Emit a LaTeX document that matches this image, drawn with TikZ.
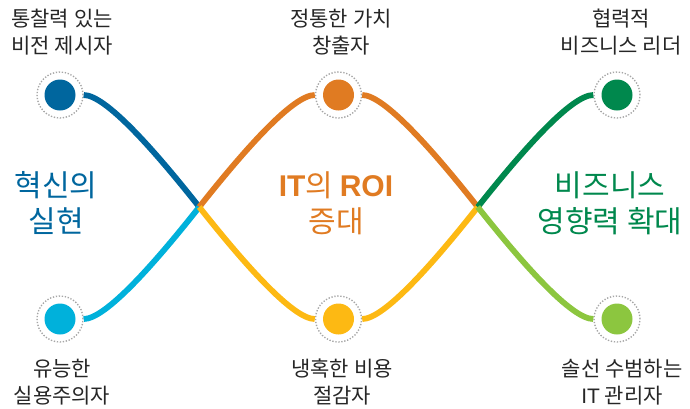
\documentclass[tikz,border=0pt]{standalone}
\usepackage{fontspec}
\setmainfont{Noto Sans CJK KR}
\newfontfamily\latinfont{Liberation Sans}
\definecolor{cblue}{HTML}{00669E}
\definecolor{ccyan}{HTML}{00B1DB}
\definecolor{corange}{HTML}{E07B22}
\definecolor{cyellow}{HTML}{FDB913}
\definecolor{cgreen}{HTML}{00884D}
\definecolor{clgreen}{HTML}{8CC63F}
\definecolor{ringgray}{HTML}{A6A6A6}
\begin{document}
\begin{tikzpicture}[x=1pt,y=-1pt,
  dotbox/.style={circle,inner sep=0pt,minimum size=31pt,fill=#1},
  ringbox/.style={circle,inner sep=0pt,minimum size=46pt,draw=ringgray,line width=1.4pt,dash pattern=on 1.3pt off 1.7pt},
  wave/.style={line width=5.8pt,draw=#1},
  lbl/.style={align=center,font=\fontsize{21}{26.5}\selectfont,text=black!85,inner sep=0pt},
  big/.style={align=center,font=\fontsize{30}{36}\selectfont,text=#1,inner sep=0pt}]
\useasboundingbox (0,0) rectangle (690,408);
% circles
\node[ringbox] (r1) at (60,95) {};
\node[ringbox] (r2) at (338.5,95) {};
\node[ringbox] (r3) at (617,95) {};
\node[ringbox] (r4) at (60,319) {};
\node[ringbox] (r5) at (338.5,319) {};
\node[ringbox] (r6) at (617,319) {};
\node[dotbox=cblue] (c1) at (r1) {};
\node[dotbox=corange] (c2) at (r2) {};
\node[dotbox=cgreen] (c3) at (r3) {};
\node[dotbox=ccyan] (c4) at (r4) {};
\node[dotbox=cyellow] (c5) at (r5) {};
\node[dotbox=clgreen] (c6) at (r6) {};
\coordinate (X1) at (199.25,207);
\coordinate (X2) at (477.75,207);
% waves
\draw[wave=cblue] (r1) .. controls (105.5,95) and (153.9,149.6) .. (X1);
\draw[wave=ccyan] (r4) .. controls (105.5,319) and (153.9,264.4) .. (X1);
\draw[wave=corange] (r2) .. controls (293,95) and (244.7,149.6) .. (X1);
\draw[wave=corange] (r2) .. controls (384,95) and (432.4,149.6) .. (X2);
\draw[wave=cyellow] (r5) .. controls (293,319) and (244.7,264.4) .. (X1);
\draw[wave=cyellow] (r5) .. controls (384,319) and (432.4,264.4) .. (X2);
\draw[wave=cgreen] (r3) .. controls (571.5,95) and (523.2,149.6) .. (X2);
\draw[wave=clgreen] (r6) .. controls (571.5,319) and (523.2,264.4) .. (X2);
% labels
\node[lbl] (t1) at (62,32) {통찰력 있는\\비전 제시자};
\node[lbl] (t2) at (341,32) {정통한 가치\\창출자};
\node[lbl] (t3) at (621,32) {협력적\\비즈니스 리더};
\node[lbl] (t4) at (62,382) {유능한\\실용주의자};
\node[lbl] (t5) at (342,382) {냉혹한 비용\\절감자};
\node[lbl] (t6) at (622,382) {솔선 수범하는\\{\latinfont IT} 관리자};
% big texts
\node[big=cblue] (m1) at (56,203) {혁신의\\실현};
\node[big=corange] (m2) at (336,203) {{\latinfont\bfseries IT}의 {\latinfont\bfseries ROI}\\증대};
\node[big=cgreen] (m3) at (610,203) {비즈니스\\영향력 확대};
\end{tikzpicture}
\end{document}
